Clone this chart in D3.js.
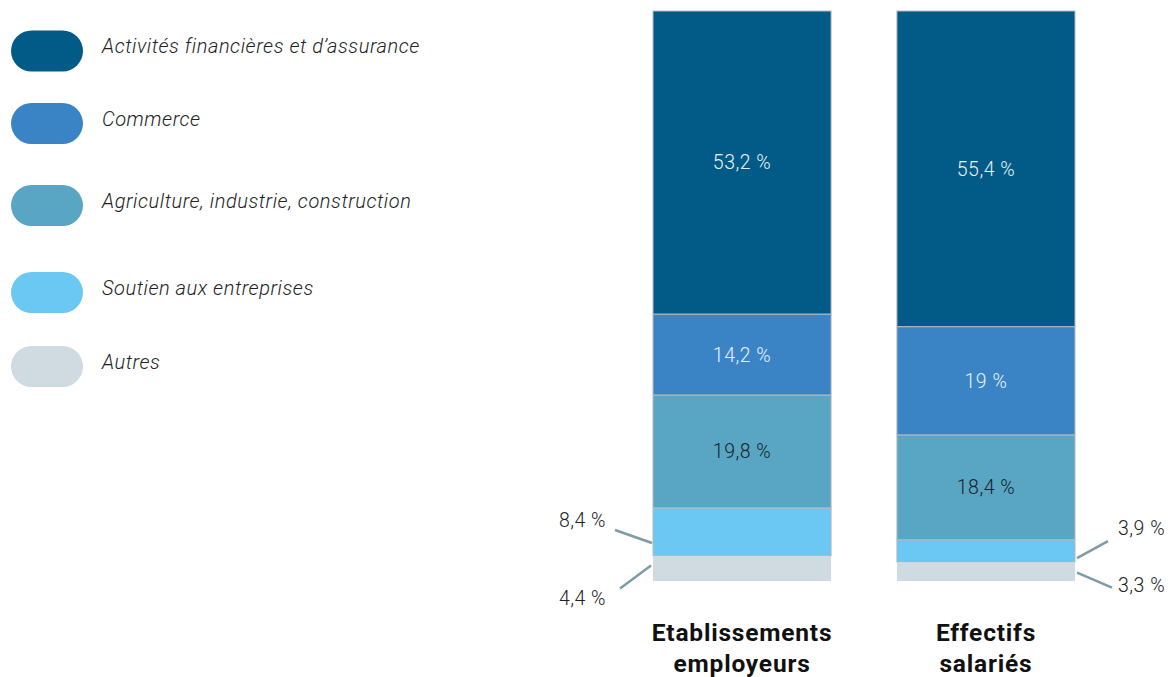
<!DOCTYPE html>
<html><head><meta charset="utf-8">
<script src="https://cdn.jsdelivr.net/npm/d3@7"></script>
<style>body{margin:0;background:#fff}svg{display:block}</style>
</head><body>
<svg id="c" width="1170" height="677"></svg>
<script>
const categories = ["Activités financières et d’assurance","Commerce","Agriculture, industrie, construction","Soutien aux entreprises","Autres"];
const colors = ["#025b87","#3a84c6","#58a6c4","#6ac8f2","#cfdbe1"];
const labelColors = ["#e8f1f8","#e8f1f8","#15232b","#15232b","#15232b"];
const bars = [["Etablissements","employeurs"],["Effectifs","salariés"]];
const etablissements = [53.2,14.2,19.8,8.4,4.4];
const effectifs = [55.4,19,18.4,3.9,3.3];
const valueLabels = [["53,2 %","14,2 %","19,8 %","8,4 %","4,4 %"],["55,4 %","19 %","18,4 %","3,9 %","3,3 %"]];
const series = [etablissements, effectifs];

const svg = d3.select("#c");
const font = "Roboto, 'Open Sans', sans-serif";

// legend
const legendY = [51,123.5,205.5,292.5,366.5];
const lg = svg.append("g");
categories.forEach((c,i)=>{
  const y = legendY[i];
  lg.append("rect").attr("x",11).attr("y",y-20.5).attr("width",72).attr("height",41)
    .attr("rx",20.5).attr("fill",colors[i]);
  lg.append("text").attr("x",102).attr("y",y-5).attr("dy","0.35em")
    .attr("font-family",font).attr("font-style","italic").attr("font-weight",300)
    .attr("font-size",20).attr("letter-spacing",0.55).attr("fill","#222").text(c);
});

// bars
const x = d3.scaleBand().domain([0,1]).range([653,1075]).paddingInner(0.27).paddingOuter(0);
const y = d3.scaleLinear().domain([0,100]).range([11,581]);

series.forEach((vals,bi)=>{
  const g = svg.append("g");
  let cum = 0;
  const segs = vals.map((v,i)=>{ const s={i,v,y0:cum,y1:cum+v}; cum+=v; return s; });
  segs.forEach(s=>{
    g.append("rect").attr("x",x(bi)).attr("width",x.bandwidth())
      .attr("y",y(s.y0)).attr("height",y(s.y1)-y(s.y0))
      .attr("fill",colors[s.i])
      .attr("stroke", s.i===4 ? "none" : "#b5b9bc").attr("stroke-width",1);
  });
  segs.forEach(s=>{
    if(s.i<3){
      g.append("text").attr("x",x(bi)+x.bandwidth()/2).attr("y",(y(s.y0)+y(s.y1))/2)
        .attr("dy","0.35em").attr("text-anchor","middle")
        .attr("font-family",font).attr("font-weight",300).attr("font-size",19.5)
        .attr("letter-spacing",0.5)
        .attr("fill",labelColors[s.i]).text(valueLabels[bi][s.i]);
    }
  });
  const xl = x(bi), xr = x(bi)+x.bandwidth();
  [3,4].forEach(i=>{
    const s = segs[i];
    const mid = (y(s.y0)+y(s.y1))/2;
    let p1,p2,tx,ty,anchor;
    if(bi===0){
      if(i===3){ p1=[xl-1,mid+11]; p2=[xl-38,mid-2]; ty=mid-12; }
      else { p1=[xl-2,mid-3]; p2=[xl-33,mid+20]; ty=mid+30; }
      tx = xl-47; anchor="end";
    } else {
      if(i===3){ p1=[xr+2,mid+7]; p2=[xr+33,mid-10]; ty=mid-23; }
      else { p1=[xr+2,mid+1]; p2=[xr+37,mid+16]; ty=mid+14; }
      tx = xr+43; anchor="start";
    }
    g.append("line").attr("x1",p1[0]).attr("y1",p1[1]).attr("x2",p2[0]).attr("y2",p2[1])
      .attr("stroke","#7d9ca6").attr("stroke-width",2.5);
    g.append("text").attr("x",tx).attr("y",ty).attr("dy","0.35em").attr("text-anchor",anchor)
      .attr("font-family",font).attr("font-weight",300).attr("font-size",19.5)
      .attr("letter-spacing",0.5).attr("fill","#222").text(valueLabels[bi][i]);
  });
  const t = g.append("text").attr("x",xl+x.bandwidth()/2).attr("y",641).attr("text-anchor","middle")
    .attr("font-family",font).attr("font-weight",700).attr("font-size",24.5)
    .attr("letter-spacing",0.8).attr("fill","#111");
  bars[bi].forEach((line,li)=>{
    t.append("tspan").attr("x",xl+x.bandwidth()/2).attr("dy",li===0?0:31).text(line);
  });
});
</script>
</body></html>
